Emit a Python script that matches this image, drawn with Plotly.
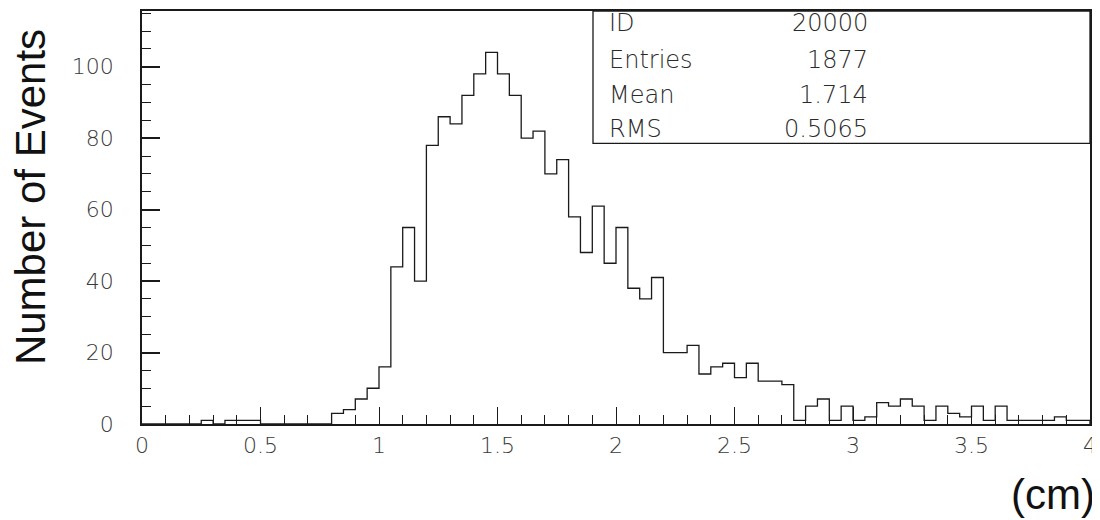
import numpy as np
import plotly.graph_objects as go

# Histogram data: 80 bins of width 0.05 from 0 to 4 (cm)
bin_start = 0.0
bin_width = 0.05
counts = [
    0, 0, 0, 0, 0, 1, 0, 1, 1, 1,
    0, 0, 0, 0, 0, 0, 3, 4, 7, 10,
    16, 44, 55, 40, 78, 86, 84, 92, 98, 104,
    98, 92, 80, 82, 70, 74, 58, 48, 61, 45,
    55, 38, 35, 41, 20, 20, 22, 14, 16, 17,
    13, 17, 12, 12, 11, 1, 5, 7, 1, 5,
    1, 2, 6, 5, 7, 5, 1, 5, 3, 2,
    5, 1, 5, 1, 1, 1, 1, 2, 1, 1,
]
x_tick_vals = [0, 0.5, 1, 1.5, 2, 2.5, 3, 3.5, 4]
x_tick_text = ["0", "0.5", "1", "1.5", "2", "2.5", "3", "3.5", "4"]
y_tick_vals = [0, 20, 40, 60, 80, 100]
stat_names = ["ID", "Entries", "Mean", "RMS"]
stat_values = ["20000", "1877", "1.714", "0.5065"]

n = len(counts)
edges = bin_start + bin_width * np.arange(n + 1)
xs = list(edges) + [edges[-1]]
ys = list(counts) + [counts[-1], 0]

fig = go.Figure()
fig.add_trace(go.Scatter(
    x=xs, y=ys, mode="lines", line_shape="hv",
    line=dict(color="#1a1a1a", width=1.3),
    hoverinfo="skip", showlegend=False,
))

OFF = 8  # default page body margin
W, H = 1100 - OFF, 520 - OFF
# desired plot area in screen pixels
SX0, SX1, SY0, SY1 = 142, 1090, 9, 424
L = SX0 - OFF
R = W - (SX1 - OFF)
T = SY0 - OFF
B = H - (SY1 - OFF)
pw, ph = SX1 - SX0, SY1 - SY0

def px_x(p):
    return (p - SX0) / pw

def px_y(p):
    return (SY1 - p) / ph

tick_font = dict(family="DejaVu Sans", size=22, color="#3a3a3a", weight=200)

fig.update_layout(
    width=W, height=H,
    margin=dict(l=L, r=R, t=T, b=B, pad=0),
    paper_bgcolor="white", plot_bgcolor="white",
    xaxis=dict(
        range=[0, 4], showgrid=False, zeroline=False,
        showline=True, linecolor="#1a1a1a", linewidth=1.5, mirror=True,
        ticks="inside", ticklen=17, tickwidth=1, tickcolor="#1a1a1a",
        tickvals=x_tick_vals, ticktext=x_tick_text, tickfont=tick_font,
        ticklabelstandoff=1,
        minor=dict(dtick=0.1, ticks="inside", ticklen=9, tickwidth=1, tickcolor="#1a1a1a"),
    ),
    yaxis=dict(
        range=[0, 415 / 3.59], showgrid=False, zeroline=False,
        showline=True, linecolor="#1a1a1a", linewidth=1.5, mirror=True,
        ticks="inside", ticklen=18, tickwidth=1.5, tickcolor="#1a1a1a",
        tickvals=y_tick_vals, tickfont=tick_font,
        ticklabelstandoff=22,
        minor=dict(dtick=5, ticks="inside", ticklen=9, tickwidth=1, tickcolor="#1a1a1a"),
    ),
)

# Stats box
fig.add_shape(type="rect", xref="paper", yref="paper",
              x0=px_x(593), x1=1.0, y0=px_y(142), y1=1.0,
              line=dict(color="#1a1a1a", width=1.3), fillcolor="white", layer="above")
row_y = [21, 58, 93, 128]
stat_font = dict(family="DejaVu Sans", size=24, color="#2a2a2a", weight=200)
for name, val, yy in zip(stat_names, stat_values, row_y):
    fig.add_annotation(x=px_x(607), y=px_y(yy), xref="paper", yref="paper",
                       text=name, showarrow=False, xanchor="left", yanchor="middle",
                       font=stat_font)
    fig.add_annotation(x=px_x(870), y=px_y(yy), xref="paper", yref="paper",
                       text=val, showarrow=False, xanchor="right", yanchor="middle",
                       font=stat_font)

# Axis titles
title_font = dict(family="Liberation Sans", size=42, color="#111111")
fig.add_annotation(x=px_x(30), y=px_y(196), xref="paper", yref="paper",
                   text="Number of Events", textangle=-90, showarrow=False,
                   xanchor="center", yanchor="middle", font=title_font)
fig.add_annotation(x=px_x(1097), y=px_y(495), xref="paper", yref="paper",
                   text="(cm)", showarrow=False,
                   xanchor="right", yanchor="middle", font=title_font)

fig.write_html("out.html")
